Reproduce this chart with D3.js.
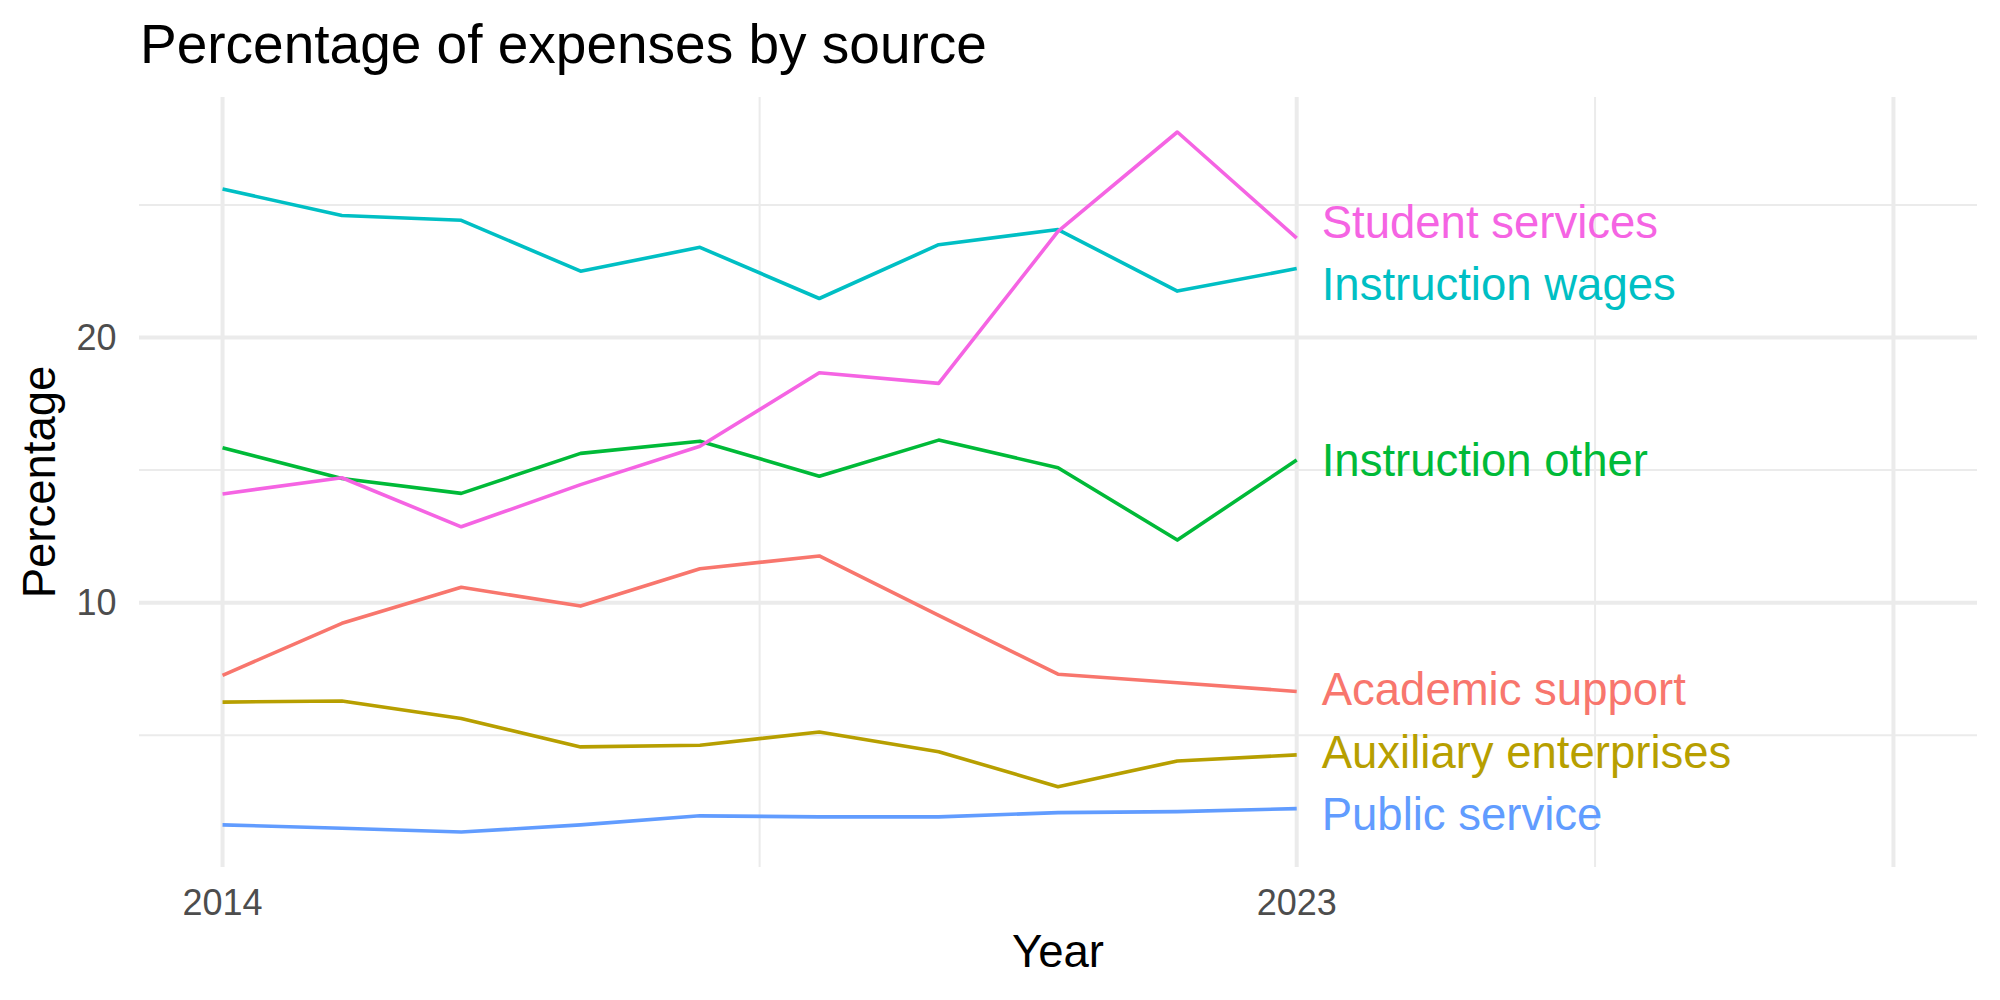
<!DOCTYPE html>
<html lang="en">
<head>
    <meta charset="UTF-8">
    <title>Percentage of expenses by source</title>
    <script src="https://d3js.org/d3.v7.min.js"></script>
    <style>
        body { margin: 0; background: #fff; }
        svg { display: block; font-family: "Liberation Sans", Arial, Helvetica, sans-serif; }
        .grid-major { stroke: #ebebeb; stroke-width: 4; }
        .grid-minor { stroke: #ebebeb; stroke-width: 2; }
        .tick-label { fill: #4d4d4d; font-size: 36px; }
        .axis-title { fill: #000; font-size: 45.5px; }
        .series { fill: none; stroke-width: 3.6; stroke-linejoin: round; }
    </style>
</head>
<body>
<svg width="2000" height="1000"></svg>
<script>
    // data
    const years = [2014, 2015, 2016, 2017, 2018, 2019, 2020, 2021, 2022, 2023];
    const sources = ["Academic support", "Auxiliary enterprises", "Instruction other",
                     "Instruction wages", "Public service", "Student services"];
    const academicSupport      = [7.26, 9.22, 10.58, 9.87, 11.28, 11.76, 9.52, 7.30, 6.98, 6.65];
    const auxiliaryEnterprises = [6.25, 6.29, 5.63, 4.56, 4.62, 5.12, 4.38, 3.06, 4.03, 4.26];
    const instructionOther     = [15.84, 14.68, 14.12, 15.63, 16.09, 14.77, 16.13, 15.09, 12.36, 15.38];
    const instructionWages     = [25.60, 24.60, 24.42, 22.50, 23.40, 21.47, 23.50, 24.07, 21.75, 22.60];
    const publicService        = [1.62, 1.49, 1.35, 1.62, 1.96, 1.92, 1.92, 2.08, 2.12, 2.23];
    const studentServices      = [14.10, 14.71, 12.86, 14.45, 15.90, 18.67, 18.27, 24.00, 27.75, 23.75];
    const xBreaks = [2014, 2023, 2028];
    const xLabels = ["2014", "2023", ""];
    const xMinor = [2018.5, 2025.5];
    const yBreaks = [10, 20];
    const yMinor = [5, 15, 25];
    const xLimits = [2014, 2028];

    const values = [academicSupport, auxiliaryEnterprises, instructionOther,
                    instructionWages, publicService, studentServices];
    const colors = ["#F8766D", "#B79F00", "#00BA38", "#00BFC4", "#619CFF", "#F564E3"];

    const series = sources.map((name, i) => ({
        name: name,
        color: colors[i],
        points: years.map((yr, j) => ({ year: yr, value: values[i][j] }))
    }));

    const svg = d3.select("svg");
    const panel = { left: 139, right: 1977, top: 97, bottom: 867 };

    // ggplot-like 5% expansion
    const xr = xLimits[1] - xLimits[0];
    const x = d3.scaleLinear()
        .domain([xLimits[0] - xr * 0.05, xLimits[1] + xr * 0.05])
        .range([panel.left, panel.right]);
    const all = values.flat();
    const yMin = d3.min(all), yMax = d3.max(all);
    const yr = yMax - yMin;
    const y = d3.scaleLinear()
        .domain([yMin - yr * 0.05, yMax + yr * 0.05])
        .range([panel.bottom, panel.top]);

    // grid
    const grid = svg.append("g");
    grid.selectAll(".hmin").data(yMinor).enter().append("line")
        .attr("class", "grid-minor")
        .attr("x1", panel.left).attr("x2", panel.right)
        .attr("y1", d => y(d)).attr("y2", d => y(d));
    grid.selectAll(".vmin").data(xMinor).enter().append("line")
        .attr("class", "grid-minor")
        .attr("x1", d => x(d)).attr("x2", d => x(d))
        .attr("y1", panel.top).attr("y2", panel.bottom);
    grid.selectAll(".hmaj").data(yBreaks).enter().append("line")
        .attr("class", "grid-major")
        .attr("x1", panel.left).attr("x2", panel.right)
        .attr("y1", d => y(d)).attr("y2", d => y(d));
    grid.selectAll(".vmaj").data(xBreaks).enter().append("line")
        .attr("class", "grid-major")
        .attr("x1", d => x(d)).attr("x2", d => x(d))
        .attr("y1", panel.top).attr("y2", panel.bottom);

    // lines
    const line = d3.line().x(d => x(d.year)).y(d => y(d.value));
    svg.append("g").selectAll("path").data(series).enter().append("path")
        .attr("class", "series")
        .attr("stroke", d => d.color)
        .attr("d", d => line(d.points));

    // end labels, pushed apart like ggrepel
    const labels = series.map(s => ({
        name: s.name, color: s.color,
        y: y(s.points[s.points.length - 1].value)
    }));
    const minGap = 62.5;
    labels.sort((a, b) => a.y - b.y);
    for (let it = 0; it < 300; it++) {
        for (let i = 1; i < labels.length; i++) {
            const gap = labels[i].y - labels[i - 1].y;
            if (gap < minGap) {
                const push = (minGap - gap) / 2;
                labels[i - 1].y -= push;
                labels[i].y += push;
            }
        }
    }
    svg.append("g").selectAll("text").data(labels).enter().append("text")
        .attr("x", x(years[years.length - 1]) + 25)
        .attr("y", d => d.y)
        .attr("dy", "0.35em")
        .attr("fill", d => d.color)
        .style("font-size", "45.5px")
        .text(d => d.name);

    // tick labels
    svg.append("g").selectAll("text").data(xBreaks).enter().append("text")
        .attr("class", "tick-label")
        .attr("x", d => x(d))
        .attr("y", 915)
        .attr("text-anchor", "middle")
        .text((d, i) => xLabels[i]);
    svg.append("g").selectAll("text").data(yBreaks).enter().append("text")
        .attr("class", "tick-label")
        .attr("x", 116.5)
        .attr("y", d => y(d))
        .attr("dy", "0.35em")
        .attr("text-anchor", "end")
        .text(d => d);

    // axis titles
    svg.append("text")
        .attr("class", "axis-title")
        .attr("x", (panel.left + panel.right) / 2)
        .attr("y", 967)
        .attr("text-anchor", "middle")
        .text("Year");
    svg.append("text")
        .attr("class", "axis-title")
        .attr("transform", `translate(55,${(panel.top + panel.bottom) / 2}) rotate(-90)`)
        .attr("text-anchor", "middle")
        .text("Percentage");

    // title
    svg.append("text")
        .attr("x", 140)
        .attr("y", 62.5)
        .style("font-size", "55px")
        .attr("fill", "#000")
        .text("Percentage of expenses by source");
</script>
</body>
</html>
